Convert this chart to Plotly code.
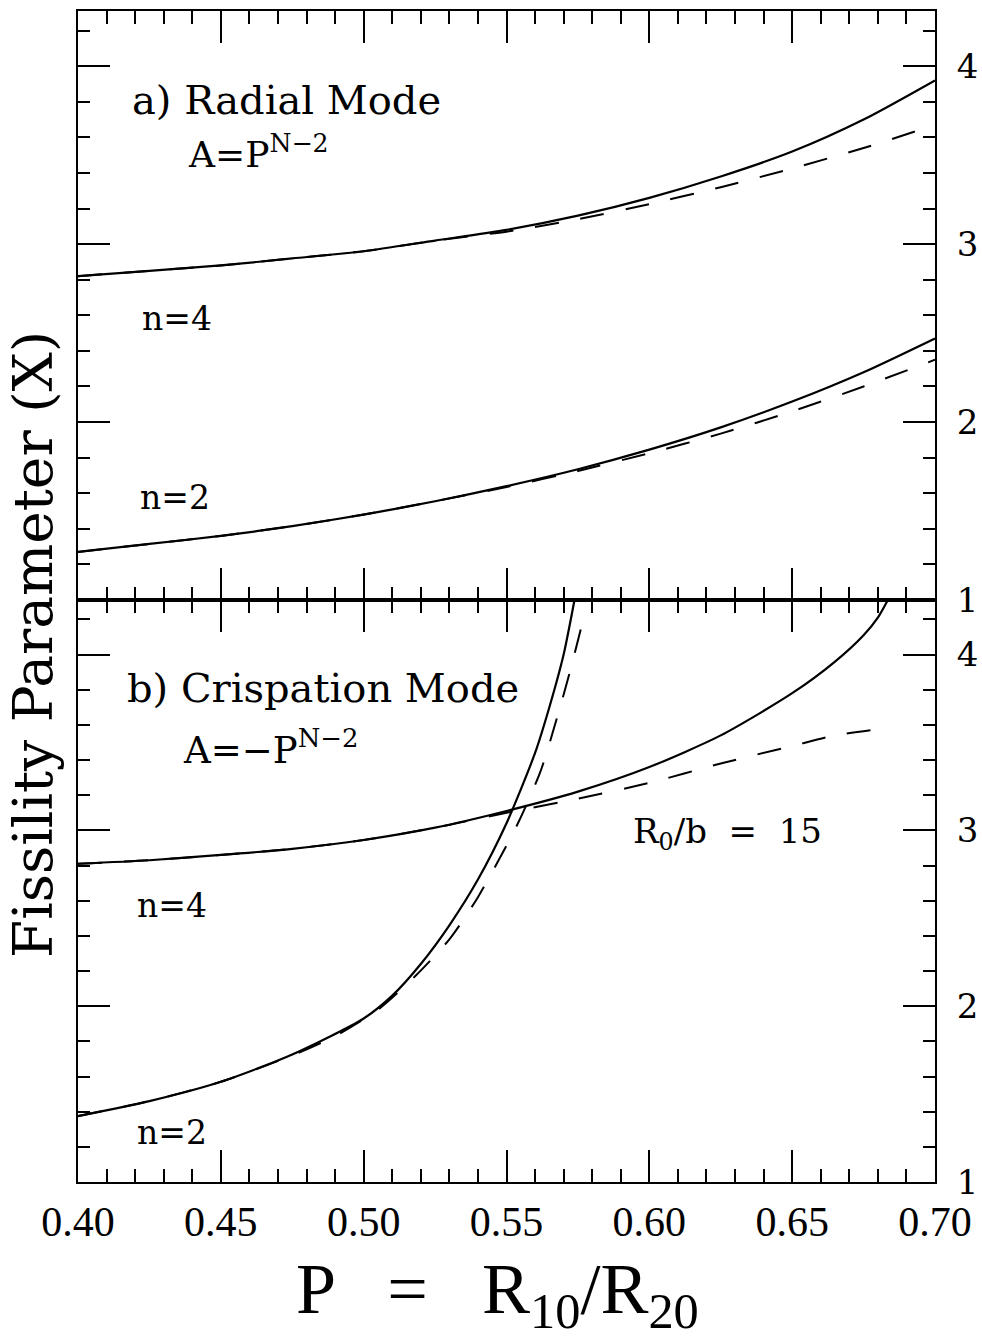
import plotly.graph_objects as go

# ---------------- data ----------------
P_grid = [0.40, 0.425, 0.45, 0.475, 0.50, 0.525, 0.55, 0.575, 0.60, 0.625, 0.65, 0.675, 0.70]

radial_n4_solid  = [2.82, 2.85, 2.88, 2.92, 2.96, 3.02, 3.08, 3.16, 3.26, 3.38, 3.52, 3.70, 3.92]
radial_n4_dashed = [2.82, 2.85, 2.88, 2.92, 2.96, 3.02, 3.07, 3.14, 3.225, 3.32, 3.425, 3.54, 3.67]
radial_n2_solid  = [1.27, 1.315, 1.36, 1.415, 1.48, 1.555, 1.64, 1.735, 1.845, 1.97, 2.115, 2.28, 2.47]
radial_n2_dashed = [1.27, 1.315, 1.36, 1.415, 1.48, 1.555, 1.635, 1.725, 1.825, 1.935, 2.06, 2.20, 2.35]

cr_n4_solid_P = [0.40, 0.425, 0.45, 0.475, 0.50, 0.525, 0.55, 0.575, 0.60, 0.625, 0.65, 0.665, 0.675, 0.68, 0.6835]
cr_n4_solid   = [2.81, 2.83, 2.86, 2.895, 2.945, 3.015, 3.11, 3.22, 3.36, 3.54, 3.78, 3.96, 4.11, 4.21, 4.31]
cr_n4_dash_P  = [0.40, 0.425, 0.45, 0.475, 0.50, 0.525, 0.55, 0.575, 0.60, 0.625, 0.65, 0.665, 0.68]
cr_n4_dashed  = [2.81, 2.83, 2.86, 2.895, 2.945, 3.015, 3.10, 3.18, 3.27, 3.38, 3.48, 3.54, 3.575]

cr_n2_solid_P = [0.40, 0.425, 0.45, 0.475, 0.50, 0.51, 0.52, 0.53, 0.54, 0.55, 0.56, 0.565, 0.57, 0.5738]
cr_n2_solid   = [1.375, 1.46, 1.57, 1.725, 1.93, 2.06, 2.24, 2.46, 2.72, 3.04, 3.44, 3.70, 4.00, 4.31]
cr_n2_dash_P  = [0.40, 0.425, 0.45, 0.475, 0.49, 0.505, 0.518, 0.53, 0.54, 0.554, 0.562, 0.5675, 0.572, 0.5775]
cr_n2_dashed  = [1.375, 1.46, 1.57, 1.72, 1.83, 1.98, 2.17, 2.38, 2.62, 3.04, 3.34, 3.63, 3.89, 4.24]

x_ticks = [0.40, 0.45, 0.50, 0.55, 0.60, 0.65, 0.70]
x_tick_text = ["0.40", "0.45", "0.50", "0.55", "0.60", "0.65", "0.70"]
y_ticks = [1, 2, 3, 4]
y_tick_text = ["1", "2", "3", "4"]

# ---------------- layout geometry ----------------
W, H = 982, 1339
L, R, T, B = 78, 935, 11, 1182
MID = 600


def px(xp):
    return (xp - L) / (R - L)


def py(yp):
    return (B - yp) / (B - T)


SERIF = "DejaVu Serif"
TSERIF = "Liberation Serif"

fig = go.Figure()

solid = dict(color="black", width=2.2, shape="spline", smoothing=0.7)
dashed = dict(color="black", width=2, dash="24px,22px", shape="spline", smoothing=0.7)

# top panel (radial)
fig.add_trace(go.Scatter(x=P_grid, y=radial_n4_solid, mode="lines", line=solid, xaxis="x2", yaxis="y2"))
fig.add_trace(go.Scatter(x=P_grid, y=radial_n4_dashed, mode="lines", line=dashed, xaxis="x2", yaxis="y2"))
fig.add_trace(go.Scatter(x=P_grid, y=radial_n2_solid, mode="lines", line=solid, xaxis="x2", yaxis="y2"))
fig.add_trace(go.Scatter(x=P_grid, y=radial_n2_dashed, mode="lines", line=dashed, xaxis="x2", yaxis="y2"))

# bottom panel (crispation)
fig.add_trace(go.Scatter(x=cr_n4_solid_P, y=cr_n4_solid, mode="lines", line=solid, xaxis="x", yaxis="y"))
fig.add_trace(go.Scatter(x=cr_n4_dash_P, y=cr_n4_dashed, mode="lines", line=dashed, xaxis="x", yaxis="y"))
fig.add_trace(go.Scatter(x=cr_n2_solid_P, y=cr_n2_solid, mode="lines", line=solid, xaxis="x", yaxis="y"))
fig.add_trace(go.Scatter(x=cr_n2_dash_P, y=cr_n2_dashed, mode="lines", line=dashed, xaxis="x", yaxis="y"))

split = py(MID)

xcommon = dict(
    range=[0.40, 0.70], tickvals=x_ticks, ticktext=x_tick_text,
    ticks="inside", ticklen=32, tickwidth=2, tickcolor="black",
    showline=True, linewidth=2, linecolor="black", mirror="allticks",
    showgrid=False, zeroline=False, automargin=False,
    minor=dict(dtick=0.01, tick0=0.40, ticks="inside", ticklen=13, tickwidth=2, tickcolor="black", showgrid=False),
)
ycommon = dict(
    range=[1, 4.31], tickvals=y_ticks, ticktext=y_tick_text,
    ticks="inside", ticklen=32, tickwidth=2, tickcolor="black",
    showline=True, linewidth=2, linecolor="black", mirror="allticks",
    showgrid=False, zeroline=False, side="right", automargin=False,
    tickfont=dict(family=SERIF, size=34, color="black"), ticklabelstandoff=13,
    minor=dict(dtick=0.2, tick0=1, ticks="inside", ticklen=12, tickwidth=2, tickcolor="black", showgrid=False),
)

fig.update_layout(
    width=W, height=H,
    margin=dict(l=L, r=W - R, t=T, b=H - B, autoexpand=False),
    paper_bgcolor="white", plot_bgcolor="white",
    showlegend=False,
    xaxis=dict(**xcommon, anchor="y", domain=[0, 1],
               tickfont=dict(family=TSERIF, size=42, color="black"), ticklabelstandoff=2),
    xaxis2=dict(**xcommon, anchor="y2", matches="x", showticklabels=False, domain=[0, 1]),
    yaxis=dict(**ycommon, anchor="x", domain=[0, split]),
    yaxis2=dict(**ycommon, anchor="x2", domain=[split, 1]),
)


def ann(text, xp, yp, size, family=SERIF, xanchor="left", yanchor="middle", angle=0):
    fig.add_annotation(text=text, x=px(xp), y=py(yp), xref="paper", yref="paper",
                       xanchor=xanchor, yanchor=yanchor, showarrow=False, textangle=angle,
                       font=dict(family=family, size=size, color="black"))


ann("a) Radial Mode", 130, 100, 40)
ann("A=P<sup>N\u22122</sup>", 186, 152, 36)
ann("n=4", 140, 318, 33)
ann("n=2", 138, 497, 33)
ann("b) Crispation Mode", 125, 688, 40)
ann("A=\u2212P<sup>N\u22122</sup>", 181, 747, 37)
ann("R<sub>0</sub>/b  =  15", 631, 834, 34)
ann("n=4", 135, 905, 33)
ann("n=2", 135, 1132, 33)

# axis titles
ann("Fissility Parameter (X)", 33, 645, 55, xanchor="center", angle=-90)
ann("P   =   R<sub>10</sub>/R<sub>20</sub>", 497, 1294, 72, family=TSERIF, xanchor="center")

fig.write_html("out.html")
